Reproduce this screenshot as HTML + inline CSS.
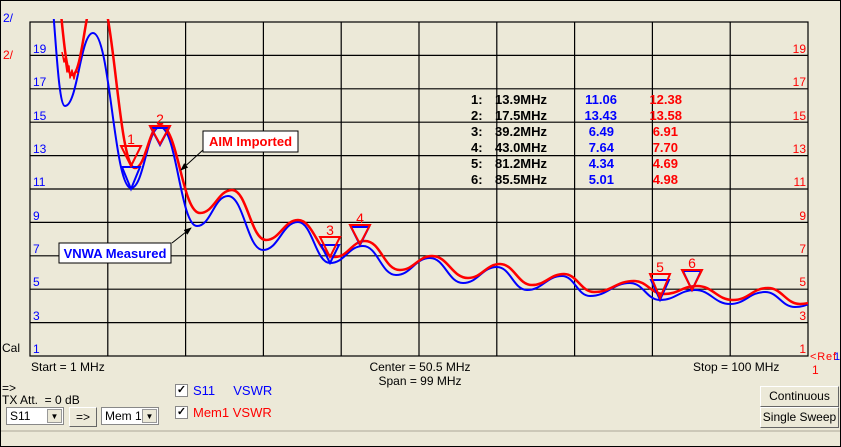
<!DOCTYPE html>
<html><head><meta charset="utf-8"><style>
body{margin:0;background:#ECE9D8;}
#w{position:relative;width:839px;height:445px;border:1px solid #000;background:#ECE9D8;overflow:hidden;font-family:"Liberation Sans",sans-serif;font-size:12px;}
.t{position:absolute;white-space:nowrap;}
.cb{position:absolute;width:11px;height:11px;border:1px solid #888;background:#fff;font-size:11px;line-height:11px;text-align:center;font-weight:bold;}
.combo{position:absolute;height:18px;background:#fff;border:1px solid #888;font-size:12px;line-height:16px;padding-left:3px;box-sizing:border-box;white-space:nowrap;}
.arr{position:absolute;right:1px;top:1px;width:15px;height:14px;background:#ECE9D8;border:1px solid #999;font-size:8px;line-height:14px;text-align:center;box-sizing:border-box;}
.btn{position:absolute;background:#ECE9D8;border:1px solid #fff;border-right-color:#666;border-bottom-color:#666;box-sizing:border-box;text-align:center;font-size:12px;white-space:nowrap;}
</style></head><body><div id="w">
<svg width="841" height="447" style="position:absolute;left:-1px;top:-1px">
<defs><clipPath id="c"><rect x="30" y="19" width="778" height="337"/></clipPath>
<marker id="ah" markerWidth="8" markerHeight="8" refX="7" refY="4" orient="auto"><path d="M0,1 L8,4 L0,7z" fill="#000"/></marker></defs>
<g stroke="#000" stroke-width="1.2" fill="none">
<rect x="30" y="22" width="778" height="334"/>
<path d="M107.8,22V356M185.6,22V356M263.4,22V356M341.2,22V356M419,22V356M496.8,22V356M574.6,22V356M652.4,22V356M730.2,22V356"/>
<path d="M30,55.4H808M30,88.8H808M30,122.2H808M30,155.6H808M30,189H808M30,222.4H808M30,255.8H808M30,289.2H808M30,322.6H808"/>
</g>
<g clip-path="url(#c)" fill="none" stroke-linejoin="round">
<path stroke="#0000ff" stroke-width="2" d="M44,-40 C54.5,-40 55.5,106 65,106 C77.6,106 80.4,33 93,33 C110,33 114,188 131,188 C144,188 147,127 160,127 C176.7,127 180.3,226 197,226 C211,226 214,196 228,196 C243.7,196 247.3,250 263,250 C278.7,250 282.3,222 298,222 C312.4,222 315.6,263 330,263 C344.8,263 348.2,246 363,246 C377.8,246 381.2,275 396,275 C411.3,275 414.7,258 430,258 C444.8,258 448.2,283 463,283 C478.3,283 481.7,267 497,267 C510.5,267 513.5,290 527,290 C542.7,290 546.3,276 562,276 C574.6,276 577.4,296 590,296 C608,296 612,283 630,283 C643.5,283 646.5,300 660,300 C675.7,300 679.3,290 695,290 C710.7,290 714.3,304 730,304 C745.7,304 749.3,292 765,292 C778.5,292 781.5,307 795,307 C808.5,307 811.5,300 825,300"/>
<path stroke="#ff0000" stroke-width="2.5" d="M50,-40 C61,-40 62,75 72,75 C83,75 86,-10 97,-10 C114,-10 118,168 135,168 C146,168 149,125 160,125 C178,125 182,213 200,213 C214,213 218,190 232,190 C247,190 251,240 266,240 C280,240 284,220 298,220 C314,220 319,257 335,257 C348,257 352,241 365,241 C381,241 384,270 400,270 C414,270 418,256 432,256 C448,256 452,278 468,278 C482,278 486,264 500,264 C514,264 518,285 532,285 C546,285 550,274 564,274 C577,274 581,292 594,292 C612,292 616,281 634,281 C647,281 651,294 664,294 C679,294 682,286 697,286 C713,286 717,300 733,300 C749,300 752,288 768,288 C782,288 786,304 800,304 C811,304 814,300 825,300"/>
<polyline stroke="#ff0000" stroke-width="1.5" points="62,52 64,62 65,58 67,72 69,66 70,78 72,70 74,79 76,70 78,74"/>
</g>
<g fill="none" stroke-width="2">
<path stroke="#0000ff" d="M122,167H140L131,189Z M151,128H169L160,145Z M321,245H339L330,263Z M351,227H369L360,245Z M651,280H669L660,300Z M683,271H701L692,290Z"/>
<path stroke="#ff0000" d="M121,146H141L131,166Z M150,126H170L160,144Z M320,237H340L330,257Z M350,225H370L360,244Z M650,274H670L660,298Z M682,270H702L692,290Z"/>
<line x1="203" y1="150" x2="181" y2="170" stroke="#000" stroke-width="1" marker-end="url(#ah)"/>
<line x1="172" y1="243" x2="191" y2="228" stroke="#000" stroke-width="1" marker-end="url(#ah)"/>
</g>
<g font-family="Liberation Sans,sans-serif" font-size="14" fill="#ff0000" text-anchor="middle">
<text x="131" y="144">1</text><text x="160" y="124">2</text><text x="330" y="235">3</text><text x="360" y="223">4</text><text x="660" y="272">5</text><text x="692" y="268">6</text>
</g>
<g font-family="Liberation Sans,sans-serif" font-size="12" fill="#0000ff">
<text x="33" y="53">19</text><text x="33" y="86">17</text><text x="33" y="120">15</text><text x="33" y="153">13</text><text x="33" y="186">11</text><text x="33" y="220">9</text><text x="33" y="253">7</text><text x="33" y="286">5</text><text x="33" y="320">3</text><text x="33" y="353">1</text>
<text x="3" y="22">2/</text>
</g>
<g font-family="Liberation Sans,sans-serif" font-size="12" fill="#ff0000" text-anchor="end">
<text x="806" y="53">19</text><text x="806" y="86">17</text><text x="806" y="120">15</text><text x="806" y="153">13</text><text x="806" y="186">11</text><text x="806" y="220">9</text><text x="806" y="253">7</text><text x="806" y="286">5</text><text x="806" y="320">3</text><text x="806" y="353">1</text>
</g>
<text x="3" y="59" font-family="Liberation Sans,sans-serif" font-size="12" fill="#ff0000">2/</text>
<text x="810" y="360" font-family="Liberation Sans,sans-serif" font-size="11" fill="#ff0000" textLength="26">&lt;Ref</text>
<text x="834" y="360" font-family="Liberation Sans,sans-serif" font-size="11" fill="#0000ff">1</text>
<text x="812" y="374" font-family="Liberation Sans,sans-serif" font-size="12" fill="#ff0000">1</text>
<rect x="203" y="131" width="95" height="21" fill="#fff" stroke="#000"/>
<text x="250.5" y="146" text-anchor="middle" font-family="Liberation Sans,sans-serif" font-size="13" font-weight="bold" fill="#ff0000">AIM Imported</text>
<rect x="59" y="243" width="112" height="20" fill="#fff" stroke="#000"/>
<text x="115" y="258" text-anchor="middle" font-family="Liberation Sans,sans-serif" font-size="13" font-weight="bold" fill="#0000ff">VNWA Measured</text>
<g font-family="Liberation Sans,sans-serif" font-size="13" font-weight="bold">
<g fill="#000"><text x="471" y="104">1:</text><text x="471" y="120">2:</text><text x="471" y="136">3:</text><text x="471" y="152">4:</text><text x="471" y="168">5:</text><text x="471" y="184">6:</text>
<text x="495" y="104">13.9MHz</text><text x="495" y="120">17.5MHz</text><text x="495" y="136">39.2MHz</text><text x="495" y="152">43.0MHz</text><text x="495" y="168">81.2MHz</text><text x="495" y="184">85.5MHz</text></g>
<g fill="#0000ff" text-anchor="end"><text x="617" y="104">11.06</text><text x="617" y="120">13.43</text><text x="614" y="136">6.49</text><text x="614" y="152">7.64</text><text x="614" y="168">4.34</text><text x="614" y="184">5.01</text></g>
<g fill="#ff0000" text-anchor="end"><text x="682" y="104">12.38</text><text x="682" y="120">13.58</text><text x="678" y="136">6.91</text><text x="678" y="152">7.70</text><text x="678" y="168">4.69</text><text x="678" y="184">4.98</text></g>
</g>
<line x1="1" y1="431" x2="840" y2="431" stroke="#aca899"/>
</svg>
<div class="t" style="left:1px;top:340px">Cal</div>
<div class="t" style="left:30px;top:359px">Start = 1 MHz</div>
<div class="t" style="left:0;width:838px;text-align:center;top:359px">Center = 50.5 MHz</div>
<div class="t" style="left:0;width:838px;text-align:center;top:373px">Span = 99 MHz</div>
<div class="t" style="left:692px;top:359px">Stop = 100 MHz</div>
<div class="t" style="left:1px;top:380px">=&gt;</div>
<div class="t" style="left:1px;top:392px">TX Att.&nbsp; = 0 dB</div>
<div class="combo" style="left:5px;top:406px;width:58px">S11<div class="arr">▼</div></div>
<div class="btn" style="left:68px;top:406px;width:28px;height:20px;line-height:18px">=&gt;</div>
<div class="combo" style="left:100px;top:406px;width:58px">Mem 1<div class="arr">▼</div></div>
<div class="cb" style="left:174px;top:383px">✓</div>
<div class="t" style="left:192px;top:382px;color:#0000ff;font-size:13px">S11&nbsp;&nbsp;&nbsp;&nbsp; VSWR</div>
<div class="cb" style="left:174px;top:405px">✓</div>
<div class="t" style="left:192px;top:404px;color:#ff0000;font-size:13px">Mem1 VSWR</div>
<div class="btn" style="left:759px;top:385px;width:79px;height:21px;line-height:19px">Continuous</div>
<div class="btn" style="left:759px;top:406px;width:79px;height:21px;line-height:19px">Single Sweep</div>
</div></body></html>
